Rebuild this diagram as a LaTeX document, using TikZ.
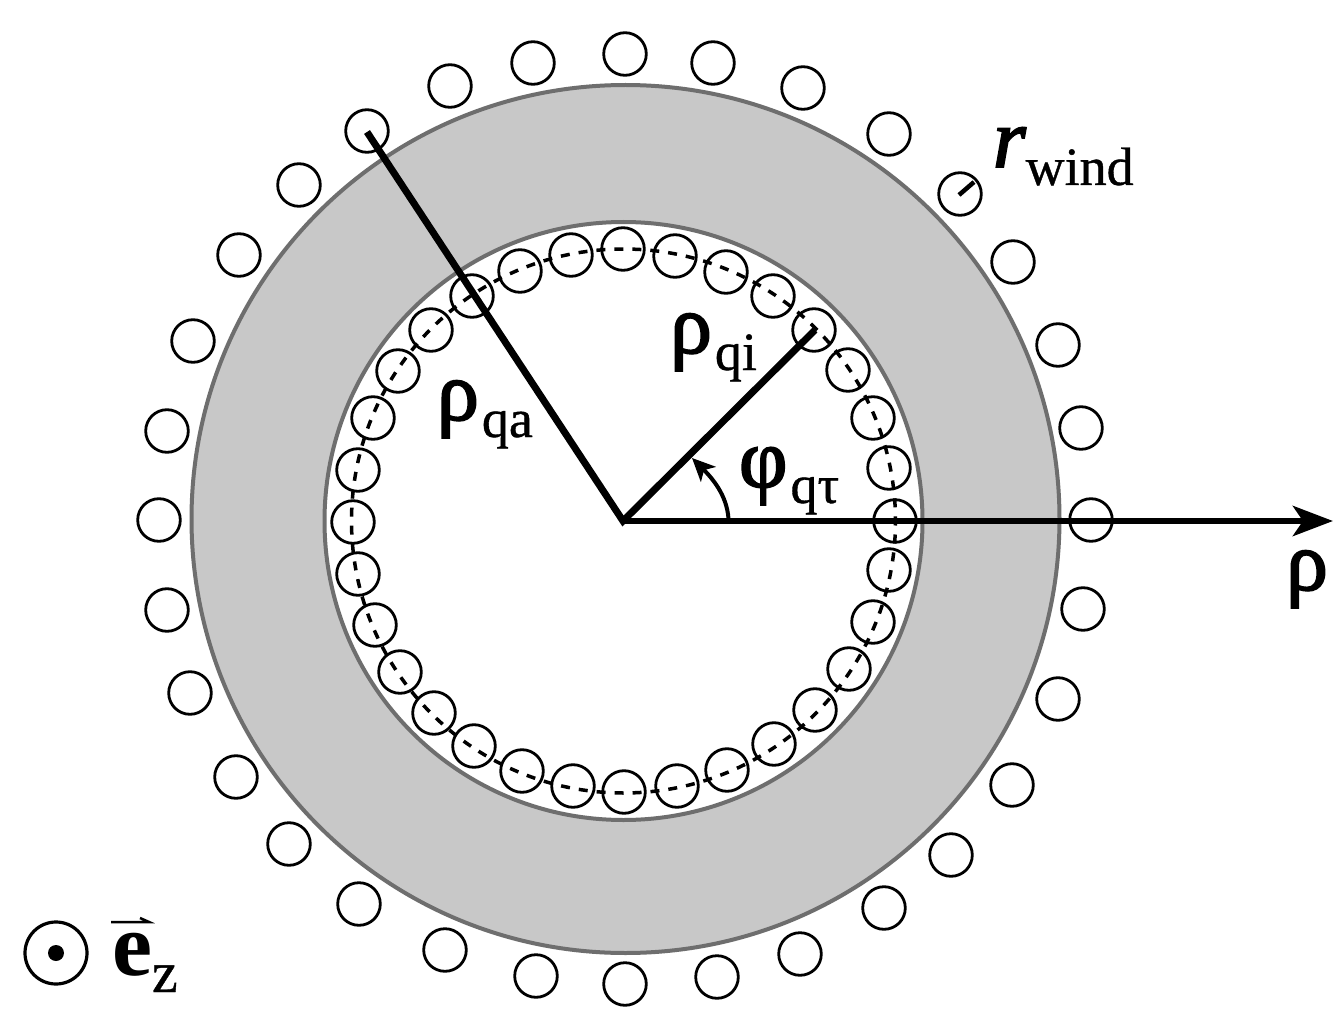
\documentclass[tikz,border=0pt]{standalone}
\usepackage{fontspec}
\setmainfont{Liberation Serif}
\newfontfamily\subfont{Liberation Serif}[FakeBold=0.7]
\newfontfamily\symfont{Liberation Serif}[FakeBold=2.2]
\usetikzlibrary{arrows.meta}
\newcommand{\sz}[1]{\fontsize{#1}{#1}\selectfont}
\newcommand{\lab}[3]{{\sz{84}#1}\kern3pt\raisebox{-#3pt}{\subfont\sz{54}#2}}
\tikzset{
  wire/.style={draw=black,line width=2.8pt},
  ring/.style={fill=ringgray,draw=ringedge,line width=4pt,even odd rule},
  radius line/.style={draw=black,line width=7pt},
  txt/.style={inner sep=0pt,outer sep=0pt,anchor=base west,text=black}
}
\definecolor{ringgray}{HTML}{C8C8C8}
\definecolor{ringedge}{HTML}{6E6E6E}
\begin{document}
\begin{tikzpicture}[x=1pt,y=-1pt]
\useasboundingbox (0,0) rectangle (1342,1027);
\fill[white] (0,0) rectangle (1342,1027);
% ring
\path[ring] (625.5,519) circle[radius=434] (623.5,521) circle[radius=299];
% outer windings
\foreach \x/\y in {625/54,713/63,803/88,889/134,960/194,1013/262,1058/345,1081/428,1091/520,1083/609,1058/699,1012/785,951/855,884/908,800/954,717/977,625/984,536/976,445/950,359/904,289/844,236/777,190/693,167/610,159/520,167/431,193/341,239/255,299/185,367/131,450/86,533/63}
  \draw[wire] (\x,\y) circle[radius=21.3];
% inner windings
\foreach \x/\y in {623/249,675/256,726/272,773/296,814/330,848/370,873/418,889/468,895/521,889/570,873/622,849/669,815/710,774/744,727/770,677/786,624/792,573/786,522/771,474/746,434/713,400/672,375/625,358/574,353/522,358/470,373/418,398/371,431/330,472/296,520/271,571/255}
  \draw[wire] (\x,\y) circle[radius=21.3];
% dashed centre line
\draw[draw=black,line width=3.5pt,dash pattern=on 9pt off 8.99pt,dash phase=4.5pt] (623.5,521) circle[radius=272];
% coordinates
\coordinate (O) at (623,521);
\coordinate (qi) at (815,330);
\coordinate (qa) at (367,132);
\coordinate (rhoEnd) at (1333,521);
\draw[radius line] (qi) -- (O) -- (qa);
\draw[draw=black,line width=6.5pt,-{Stealth[length=40pt,width=30pt,inset=10pt]}] (O) -- (rhoEnd);
% angle
\draw[draw=black,line width=4pt,-{Stealth[length=23pt,width=21pt,inset=6pt]}] (728.5,519) .. controls (727,495) and (712,478) .. (692,458);
% radius tick
\coordinate (wa) at (959,195);
\coordinate (wb) at (974,182);
\draw[draw=black,line width=4.5pt] (wa) -- (wb);
% labels
\node[txt] (lqi) at (670,353) {\lab{\symfont ρ}{qi}{17}};
\node[txt] (lqa) at (437,420) {\lab{\symfont ρ}{qa}{17}};
\node[txt] (lphi) at (739,487) {\lab{\symfont φ}{qτ}{16}};
\node[txt] (lrho) at (1286,590) {\sz{84}\symfont ρ};
\node[txt] (lwind) at (993,167) {{\sz{84}\symfont\itshape r}\raisebox{-18pt}{\subfont\sz{54}wind}};
% e_z
\draw[draw=black,line width=3.2pt] (56,953) circle[radius=31];
\fill[black] (56,953) circle[radius=8];
\node[txt] (lez) at (112,975) {{\sz{90}\bfseries e}\raisebox{-17pt}{\subfont\sz{58}z}};
\coordinate (ha) at (111,922);
\coordinate (hb) at (149,922);
\draw[draw=black,line width=2.5pt] (ha) -- (hb) -- ++(-9,-4);
\end{tikzpicture}
\end{document}
